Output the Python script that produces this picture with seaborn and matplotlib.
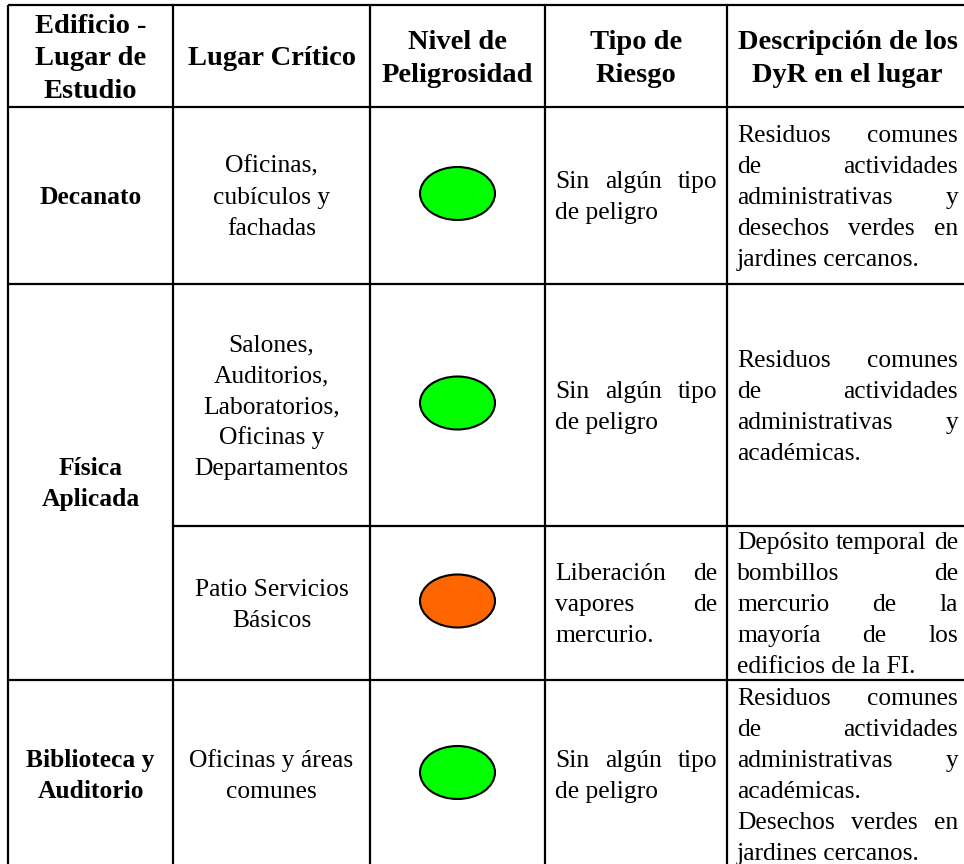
import matplotlib
matplotlib.use("Agg")
import matplotlib.pyplot as plt
from matplotlib.patches import Ellipse
import seaborn as sns

sns.set_theme(style="white")
plt.rcParams['font.family'] = ['Liberation Serif', 'DejaVu Serif']
plt.rcParams['text.color'] = 'black'

# table content
headers = [
    ["Edificio -", "Lugar de", "Estudio"],
    ["Lugar Crítico"],
    ["Nivel de", "Peligrosidad"],
    ["Tipo de", "Riesgo"],
    ["Descripción de los", "DyR en el lugar"],
]
edificios = [["Decanato"], ["Física", "Aplicada"], ["Biblioteca y", "Auditorio"]]
lugares = [
    ["Oficinas,", "cubículos y", "fachadas"],
    ["Salones,", "Auditorios,", "Laboratorios,", "Oficinas y", "Departamentos"],
    ["Patio Servicios", "Básicos"],
    ["Oficinas y áreas", "comunes"],
]
peligrosidad = ["#00FF00", "#00FF00", "#FF6600", "#00FF00"]
riesgos = [
    [["Sin algún tipo", "de peligro"]],
    [["Sin algún tipo", "de peligro"]],
    [["Liberación de", "vapores de", "mercurio."]],
    [["Sin algún tipo", "de peligro"]],
]
descripciones = [
    [["Residuos comunes", "de actividades", "administrativas y",
      "desechos verdes en", "jardines cercanos."]],
    [["Residuos comunes", "de actividades", "administrativas y", "académicas."]],
    [["Depósito temporal de", "bombillos de", "mercurio de la",
      "mayoría de los", "edificios de la FI."]],
    [["Residuos comunes", "de actividades", "administrativas y", "académicas."],
     ["Desechos verdes en", "jardines cercanos."]],
]

# layout (pixels)
W, H = 964, 864
col_x = [8, 173, 370, 545, 727, 968]
row_y = [5, 107, 284, 526, 680, 869]
edificio_rows = [(1, 2), (2, 4), (4, 5)]
PAD = 10
HEAD_FS, BODY_FS = 20.5, 18.4
HEAD_LH, BODY_LH = 32.5, 31.0

fig = plt.figure(figsize=(W / 100, H / 100), dpi=100)
ax = fig.add_axes([0, 0, 1, 1])
ax.set_xlim(0, W)
ax.set_ylim(H, 0)
ax.axis("off")
renderer = fig.canvas.get_renderer()


def put_lines(lines, x, yc, size, lh, weight="normal", ha="center"):
    em = size * 100 / 72
    n = len(lines)
    for i, s in enumerate(lines):
        y = yc + (i - (n - 1) / 2) * lh + 0.33 * em
        ax.text(x, y, s, ha=ha, va="baseline", fontsize=size, fontweight=weight,
                color="black")


def text_width(s, size):
    t = ax.text(0, 0, s, fontsize=size)
    w = t.get_window_extent(renderer).width
    t.remove()
    return w


def put_justified(paragraphs, x0, x1, yc, size, lh):
    em = size * 100 / 72
    flat = [(line, i == len(p) - 1) for p in paragraphs for i, line in enumerate(p)]
    n = len(flat)
    for k, (line, last) in enumerate(flat):
        y = yc + (k - (n - 1) / 2) * lh + 0.33 * em
        words = line.split()
        if last or len(words) == 1:
            ax.text(x0, y, line, ha="left", va="baseline", fontsize=size, color="black")
            continue
        widths = [text_width(w, size) for w in words]
        gap = (x1 - x0 - sum(widths)) / (len(words) - 1)
        x = x0
        for w, wd in zip(words, widths):
            ax.text(x, y, w, ha="left", va="baseline", fontsize=size, color="black")
            x += wd + gap


def cx(c):
    return (col_x[c] + col_x[c + 1]) / 2


def cy(r0, r1):
    return (row_y[r0] + row_y[r1]) / 2


# header
for c, lines in enumerate(headers):
    put_lines(lines, cx(c), cy(0, 1), HEAD_FS, HEAD_LH, weight="bold")

# building column
for lines, (r0, r1) in zip(edificios, edificio_rows):
    put_lines(lines, cx(0), cy(r0, r1), BODY_FS, BODY_LH, weight="bold")

# other columns
for r in range(4):
    yc = cy(r + 1, r + 2)
    put_lines(lugares[r], cx(1), yc, BODY_FS, BODY_LH)
    ax.add_patch(Ellipse((cx(2), yc - 2), 75, 53, facecolor=peligrosidad[r],
                         edgecolor="black", lw=1.5))
    put_justified(riesgos[r], col_x[3] + PAD, col_x[4] - PAD, yc, BODY_FS, BODY_LH)
    put_justified(descripciones[r], col_x[4] + PAD, col_x[5] - PAD, yc, BODY_FS, BODY_LH)

# grid lines
for x in col_x[:-1]:
    ax.plot([x, x], [row_y[0], H], color="black", lw=1.6, solid_capstyle="butt")
for y in [row_y[0], row_y[1], row_y[2], row_y[4]]:
    ax.plot([col_x[0], W], [y, y], color="black", lw=1.6, solid_capstyle="butt")
ax.plot([col_x[1], W], [row_y[3], row_y[3]], color="black", lw=1.6, solid_capstyle="butt")

fig.savefig("out.png", dpi=100)
